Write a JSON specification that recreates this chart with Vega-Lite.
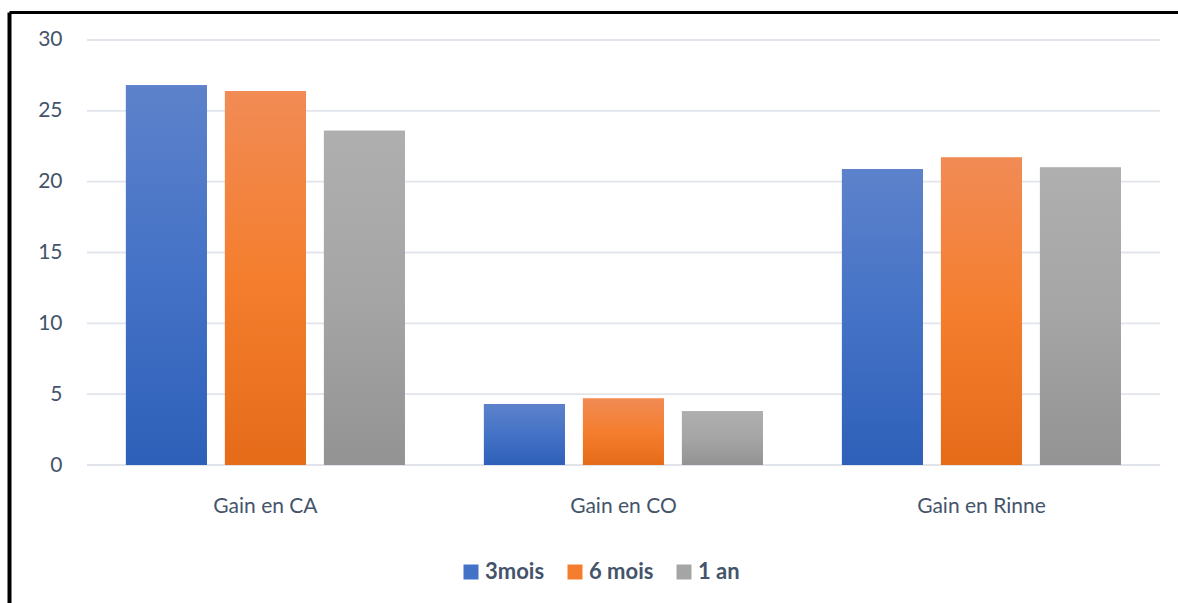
{
  "$schema": "https://vega.github.io/schema/vega-lite/v6.json",
  "width": 1169,
  "height": 591,
  "autosize": {"type": "none"},
  "padding": {"left": 9, "top": 12, "right": 0, "bottom": 0},
  "background": "white",
  "config": {
    "font": "Lato",
    "view": {"stroke": null}
  },
  "datasets": {
    "gains": [
      {"categorie": "Gain en CA", "periode": "3mois", "gain": 26.8},
      {"categorie": "Gain en CA", "periode": "6 mois", "gain": 26.4},
      {"categorie": "Gain en CA", "periode": "1 an", "gain": 23.6},
      {"categorie": "Gain en CO", "periode": "3mois", "gain": 4.3},
      {"categorie": "Gain en CO", "periode": "6 mois", "gain": 4.7},
      {"categorie": "Gain en CO", "periode": "1 an", "gain": 3.8},
      {"categorie": "Gain en Rinne", "periode": "3mois", "gain": 20.9},
      {"categorie": "Gain en Rinne", "periode": "6 mois", "gain": 21.7},
      {"categorie": "Gain en Rinne", "periode": "1 an", "gain": 21.0}
    ],
    "grille": [{"v": 0}, {"v": 5}, {"v": 10}, {"v": 15}, {"v": 20}, {"v": 25}, {"v": 30}]
  },
  "layer": [
    {
      "data": {"name": "grille"},
      "mark": {"type": "rule", "color": "#E1E5EB", "strokeWidth": 1.8},
      "encoding": {
        "y": {
          "field": "v",
          "type": "quantitative",
          "scale": {"domain": [-9.741, 31.976], "nice": false, "zero": false},
          "axis": {
            "title": null,
            "values": [0, 5, 10, 15, 20, 25, 30],
            "grid": false,
            "ticks": false,
            "tickSize": 0,
            "domain": true,
            "domainColor": "#000000",
            "domainWidth": 4,
            "labelAlign": "right",
            "labelPadding": -53,
            "labelFontSize": 21,
            "labelColor": "#44546A"
          }
        },
        "x": {
          "datum": 0,
          "type": "quantitative",
          "scale": {"domain": [-0.07269, 1.016775], "nice": false, "zero": false},
          "axis": {
            "orient": "top",
            "title": null,
            "labels": false,
            "ticks": false,
            "grid": false,
            "domain": true,
            "domainColor": "#000000",
            "domainWidth": 3
          }
        },
        "x2": {"datum": 1}
      }
    },
    {
      "data": {"name": "gains"},
      "layer": [
        {
          "mark": {"type": "bar"},
          "encoding": {
            "color": {
              "field": "periode",
              "type": "nominal",
              "sort": ["3mois", "6 mois", "1 an"],
              "scale": {
                "domain": ["3mois", "6 mois", "1 an"],
                "range": ["#4472C6", "#F47E2E", "#A5A5A5"]
              },
              "legend": {
                "orient": "none",
                "legendX": 451,
                "legendY": 549,
                "direction": "horizontal",
                "title": null,
                "symbolType": "square",
                "symbolSize": 225,
                "symbolStrokeWidth": 0,
                "labelFontSize": 22,
                "labelFontWeight": "bold",
                "labelColor": "#44546A",
                "labelOffset": 3,
                "columnPadding": 19
              }
            }
          }
        },
        {
          "mark": {"type": "bar"},
          "encoding": {
            "fill": {
              "condition": [
                {
                  "test": "datum.periode === '3mois'",
                  "value": {"gradient": "linear", "x1": 0, "y1": 0, "x2": 0, "y2": 1,
                    "stops": [{"offset": 0, "color": "#5D82CB"}, {"offset": 0.5, "color": "#4472C6"}, {"offset": 1, "color": "#2E60B9"}]}
                },
                {
                  "test": "datum.periode === '6 mois'",
                  "value": {"gradient": "linear", "x1": 0, "y1": 0, "x2": 0, "y2": 1,
                    "stops": [{"offset": 0, "color": "#F18B55"}, {"offset": 0.5, "color": "#F47E2E"}, {"offset": 1, "color": "#E56B19"}]}
                }
              ],
              "value": {"gradient": "linear", "x1": 0, "y1": 0, "x2": 0, "y2": 1,
                "stops": [{"offset": 0, "color": "#AFAFAF"}, {"offset": 0.5, "color": "#A5A5A5"}, {"offset": 1, "color": "#939393"}]}
            }
          }
        }
      ],
      "encoding": {
        "x": {
          "field": "categorie",
          "type": "nominal",
          "sort": null,
          "scale": {"paddingInner": 0.2207, "paddingOuter": 0.243, "align": 0.672},
          "axis": {
            "orient": "bottom",
            "title": null,
            "offset": -138,
            "domain": false,
            "ticks": false,
            "grid": false,
            "labelAngle": 0,
            "labelPadding": 30,
            "labelFontSize": 21,
            "labelColor": "#44546A"
          }
        },
        "xOffset": {
          "field": "periode",
          "type": "nominal",
          "sort": ["3mois", "6 mois", "1 an"],
          "scale": {"paddingInner": 0.182, "paddingOuter": 0}
        },
        "y": {"field": "gain", "type": "quantitative"}
      }
    }
  ],
  "resolve": {"scale": {"x": "independent"}, "axis": {"x": "independent"}}
}
